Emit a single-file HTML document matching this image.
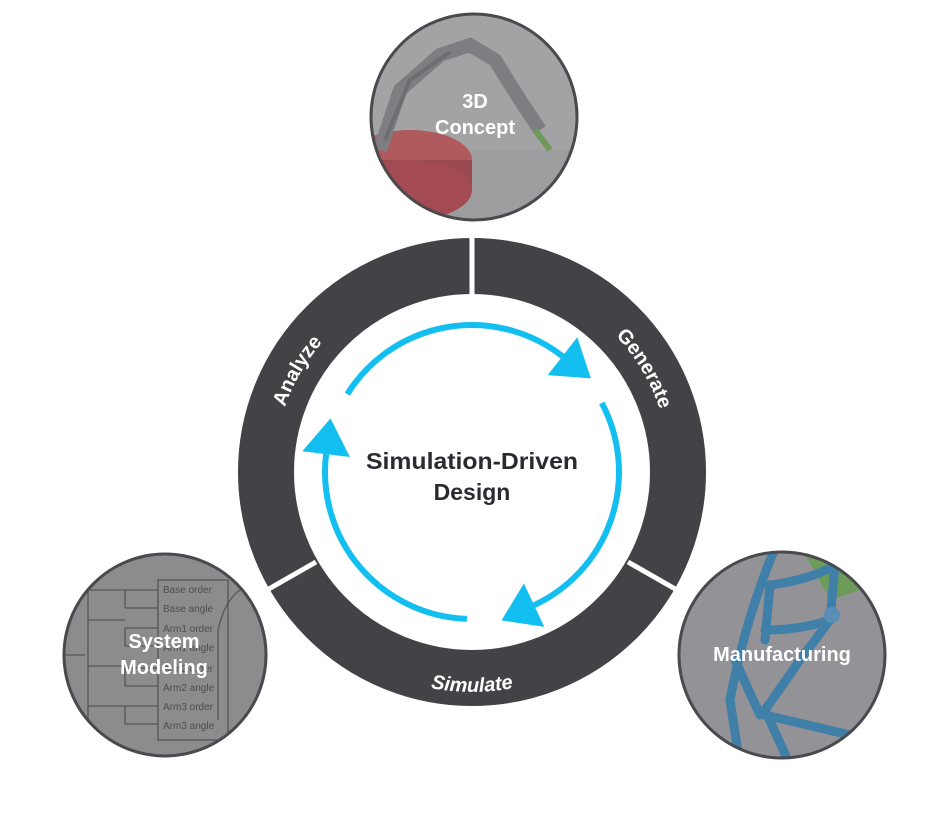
<!DOCTYPE html>
<html><head><meta charset="utf-8"><style>
html,body{margin:0;padding:0;background:#fff;}
svg{display:block;font-family:"Liberation Sans",sans-serif;}
</style></head><body>
<svg width="944" height="819" viewBox="0 0 944 819" xmlns="http://www.w3.org/2000/svg">
<defs>
<clipPath id="c1"><circle cx="474" cy="117" r="103"/></clipPath>
<clipPath id="c2"><circle cx="165" cy="655" r="101"/></clipPath>
<clipPath id="c3"><circle cx="782" cy="655" r="103"/></clipPath>
<path id="topArc" d="M 274,472 A198 198 0 0 1 670,472"/>
<path id="botArc" d="M 252,472 A220 220 0 0 0 692,472"/>
</defs>

<!-- ring -->
<circle cx="472" cy="472" r="206" fill="none" stroke="#434347" stroke-width="56"/>
<g stroke="#fff" stroke-width="5">
<line x1="472" y1="230" x2="472" y2="300"/>
<line x1="316" y1="562" x2="260" y2="594"/>
<line x1="628" y1="562" x2="684" y2="594"/>
</g>
<circle cx="472" cy="472" r="177" fill="#fff"/>

<!-- ring labels -->
<g fill="#fff" font-weight="bold" font-size="20">
<text><textPath href="#topArc" startOffset="16.7%" text-anchor="middle">Analyze</textPath></text>
<text><textPath href="#topArc" startOffset="82.8%" text-anchor="middle">Generate</textPath></text>
<text font-style="italic"><textPath href="#botArc" startOffset="50%" text-anchor="middle">Simulate</textPath></text>
</g>

<!-- blue arrows -->
<g fill="none" stroke="#12bff0" stroke-width="6">
<path d="M347.3,394.1 A147 147 0 0 1 562.5,356.2"/>
<path d="M601.8,403.0 A147 147 0 0 1 534.1,605.2"/>
<path d="M466.9,618.9 A147 147 0 0 1 326.1,454.1"/>
</g>
<g fill="#12bff0">
<polygon points="547.7,375.1 577.3,337.3 590.9,378.4"/>
<polygon points="523.9,583.5 544.3,626.9 501.5,620.4"/>
<polygon points="349.9,457.0 302.3,451.2 330.5,418.4"/>
</g>

<g fill="#2a2a30" font-weight="bold" font-size="23" text-anchor="middle">
<text x="472" y="469" textLength="212" lengthAdjust="spacingAndGlyphs">Simulation-Driven</text>
<text x="472" y="500">Design</text>
</g>

<!-- top circle -->
<g clip-path="url(#c1)">
<rect x="360" y="10" width="230" height="220" fill="#a3a3a6"/>
<rect x="360" y="150" width="230" height="80" fill="#9d9da0"/>
<ellipse cx="410" cy="160" rx="62" ry="30" fill="#b05a5e"/>
<rect x="348" y="160" width="124" height="30" fill="#9a4a50"/>
<ellipse cx="410" cy="190" rx="62" ry="30" fill="#a34a52"/>
<path d="M380,150 L400,90 L440,55 L470,45 L495,60 L520,100 L540,130" fill="none" stroke="#7e7e82" stroke-width="14"/>
<path d="M385,140 L410,80 L450,52" fill="none" stroke="#6e6e72" stroke-width="4"/>
<path d="M535,130 L550,150" stroke="#6d9a5a" stroke-width="6"/>
</g>
<circle cx="474" cy="117" r="103" fill="none" stroke="#4a4a4e" stroke-width="3"/>
<g fill="#fff" font-weight="bold" font-size="20" text-anchor="middle">
<text x="475" y="108">3D</text>
<text x="475" y="134">Concept</text>
</g>

<!-- bottom-left circle -->
<g clip-path="url(#c2)">
<rect x="55" y="545" width="225" height="220" fill="#8c8c8f"/>
<g stroke="#555558" stroke-width="1.3" fill="none">
<line x1="60" y1="655" x2="85" y2="655"/>
<line x1="88" y1="585" x2="88" y2="730"/>
<rect x="158" y="580" width="70" height="160"/>
<path d="M88,590 H125 M125,590 V608 M125,590 H158 M125,608 H158 M88,620 H125 M125,628 V646 M125,628 H158 M125,646 H158 M88,666 H125 M125,668 V686 M125,668 H158 M125,686 H158 M88,706 H125 M125,706 V724 M125,706 H158 M125,724 H158"/>
<path d="M218,720 V630 Q225,600 240,590"/>
</g>
<g fill="#4e4e52" font-size="10">
<text x="163" y="593">Base order</text>
<text x="163" y="612">Base angle</text>
<text x="163" y="632">Arm1 order</text>
<text x="163" y="651">Arm1 angle</text>
<text x="163" y="672">Arm2 order</text>
<text x="163" y="691">Arm2 angle</text>
<text x="163" y="710">Arm3 order</text>
<text x="163" y="729">Arm3 angle</text>
</g>
</g>
<circle cx="165" cy="655" r="101" fill="none" stroke="#4a4a4e" stroke-width="3"/>
<g fill="#fff" font-weight="bold" font-size="20" text-anchor="middle">
<text x="164" y="648">System</text>
<text x="164" y="674">Modeling</text>
</g>

<!-- bottom-right circle -->
<g clip-path="url(#c3)">
<rect x="670" y="545" width="225" height="220" fill="#929297"/>
<path d="M800,545 L850,545 L860,590 L830,600 Z" fill="#6d9c5a"/>
<g fill="none" stroke="#3f7fa8" stroke-width="9" stroke-linecap="round">
<path d="M775,548 Q745,620 730,700 L740,765"/>
<path d="M770,585 Q810,580 835,565"/>
<path d="M835,565 L830,620 L800,660 L765,710 L790,765"/>
<path d="M765,630 Q800,630 830,620"/>
<path d="M770,585 L765,640"/>
<path d="M735,660 L760,715"/>
<path d="M765,715 L850,735"/>
</g>
<circle cx="832" cy="615" r="8" fill="#5a8fb5"/>
</g>
<circle cx="782" cy="655" r="103" fill="none" stroke="#4a4a4e" stroke-width="3"/>
<text x="782" y="661" fill="#fff" font-weight="bold" font-size="20" text-anchor="middle">Manufacturing</text>
</svg>
</body></html>
